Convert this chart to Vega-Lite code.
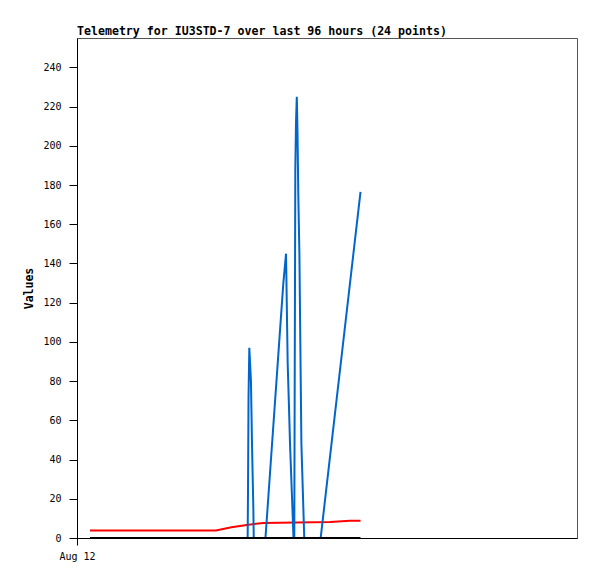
{
  "$schema": "https://vega.github.io/schema/vega-lite/v6.json",
  "width": 500,
  "height": 500,
  "autosize": {"type": "none"},
  "padding": {"left": 77, "top": 38, "right": 20, "bottom": 41},
  "background": "white",
  "title": {
    "text": "Telemetry for IU3STD-7 over last 96 hours (24 points)",
    "anchor": "start",
    "frame": "group",
    "font": "DejaVu Sans Mono",
    "fontSize": 11.6,
    "fontWeight": "bold",
    "color": "black",
    "baseline": "alphabetic",
    "offset": 4,
    "dy": 12.5
  },
  "config": {
    "view": {"stroke": "#555555", "strokeWidth": 1},
    "axis": {
      "labelFont": "DejaVu Sans Mono",
      "labelFontSize": 10,
      "labelColor": "black",
      "titleFont": "DejaVu Sans Mono",
      "titleFontSize": 11.5,
      "titleFontWeight": "bold",
      "titleColor": "black",
      "domainColor": "black",
      "tickColor": "black",
      "grid": false
    }
  },
  "datasets": {
    "red": [
      {"t": "2024-08-12T02:30", "v": 3.8},
      {"t": "2024-08-13T02:41", "v": 3.8},
      {"t": "2024-08-13T05:40", "v": 5.5},
      {"t": "2024-08-13T08:35", "v": 6.6},
      {"t": "2024-08-13T11:43", "v": 7.7},
      {"t": "2024-08-14T00:35", "v": 8.2},
      {"t": "2024-08-14T04:25", "v": 8.8},
      {"t": "2024-08-14T06:26", "v": 8.8}
    ],
    "blue": [
      {"t": "2024-08-12T02:30", "v": 0},
      {"t": "2024-08-13T08:46", "v": 0},
      {"t": "2024-08-13T08:50", "v": 24},
      {"t": "2024-08-13T08:56", "v": 72},
      {"t": "2024-08-13T09:05", "v": 97},
      {"t": "2024-08-13T09:24", "v": 80},
      {"t": "2024-08-13T09:36", "v": 48},
      {"t": "2024-08-13T09:51", "v": 16},
      {"t": "2024-08-13T09:56", "v": 0},
      {"t": "2024-08-13T12:11", "v": 0},
      {"t": "2024-08-13T15:37", "v": 130},
      {"t": "2024-08-13T16:08", "v": 145},
      {"t": "2024-08-13T16:27", "v": 89},
      {"t": "2024-08-13T16:42", "v": 67},
      {"t": "2024-08-13T16:54", "v": 48},
      {"t": "2024-08-13T17:05", "v": 35},
      {"t": "2024-08-13T17:34", "v": 0},
      {"t": "2024-08-13T17:43", "v": 0},
      {"t": "2024-08-13T17:55", "v": 188},
      {"t": "2024-08-13T18:03", "v": 212},
      {"t": "2024-08-13T18:12", "v": 225},
      {"t": "2024-08-13T18:20", "v": 208},
      {"t": "2024-08-13T18:29", "v": 176},
      {"t": "2024-08-13T18:42", "v": 145},
      {"t": "2024-08-13T19:05", "v": 48},
      {"t": "2024-08-13T19:27", "v": 16},
      {"t": "2024-08-13T19:38", "v": 0},
      {"t": "2024-08-13T22:47", "v": 0},
      {"t": "2024-08-14T06:26", "v": 176.5}
    ],
    "black": [
      {"t": "2024-08-12T02:30", "v": 0},
      {"t": "2024-08-13T08:46", "v": 0},
      {"t": "2024-08-13T22:47", "v": 0},
      {"t": "2024-08-14T06:26", "v": 0}
    ]
  },
  "encoding": {
    "x": {
      "field": "t",
      "type": "temporal",
      "scale": {
        "domain": [
          {"year": 2024, "month": 8, "date": 12, "hours": 0},
          {"year": 2024, "month": 8, "date": 16, "hours": 0}
        ]
      },
      "axis": {
        "title": null,
        "values": [{"year": 2024, "month": 8, "date": 12, "hours": 0}],
        "format": "%b %d",
        "tickSize": 7,
        "labelPadding": 6,
        "labelAlign": "center"
      }
    },
    "y": {
      "field": "v",
      "type": "quantitative",
      "scale": {"domain": [0, 255], "nice": false, "zero": true},
      "axis": {
        "title": "Values",
        "values": [0, 20, 40, 60, 80, 100, 120, 140, 160, 180, 200, 220, 240],
        "tickSize": 8,
        "labelPadding": 8,
        "titlePadding": 8
      }
    }
  },
  "layer": [
    {
      "data": {"name": "red"},
      "mark": {"type": "line", "color": "#ff0000", "strokeWidth": 2, "interpolate": "linear"}
    },
    {
      "data": {"name": "blue"},
      "mark": {"type": "line", "color": "#0066cc", "strokeWidth": 2, "interpolate": "linear"}
    },
    {
      "data": {"name": "black"},
      "mark": {"type": "line", "color": "#000000", "strokeWidth": 2, "interpolate": "linear"}
    }
  ]
}
